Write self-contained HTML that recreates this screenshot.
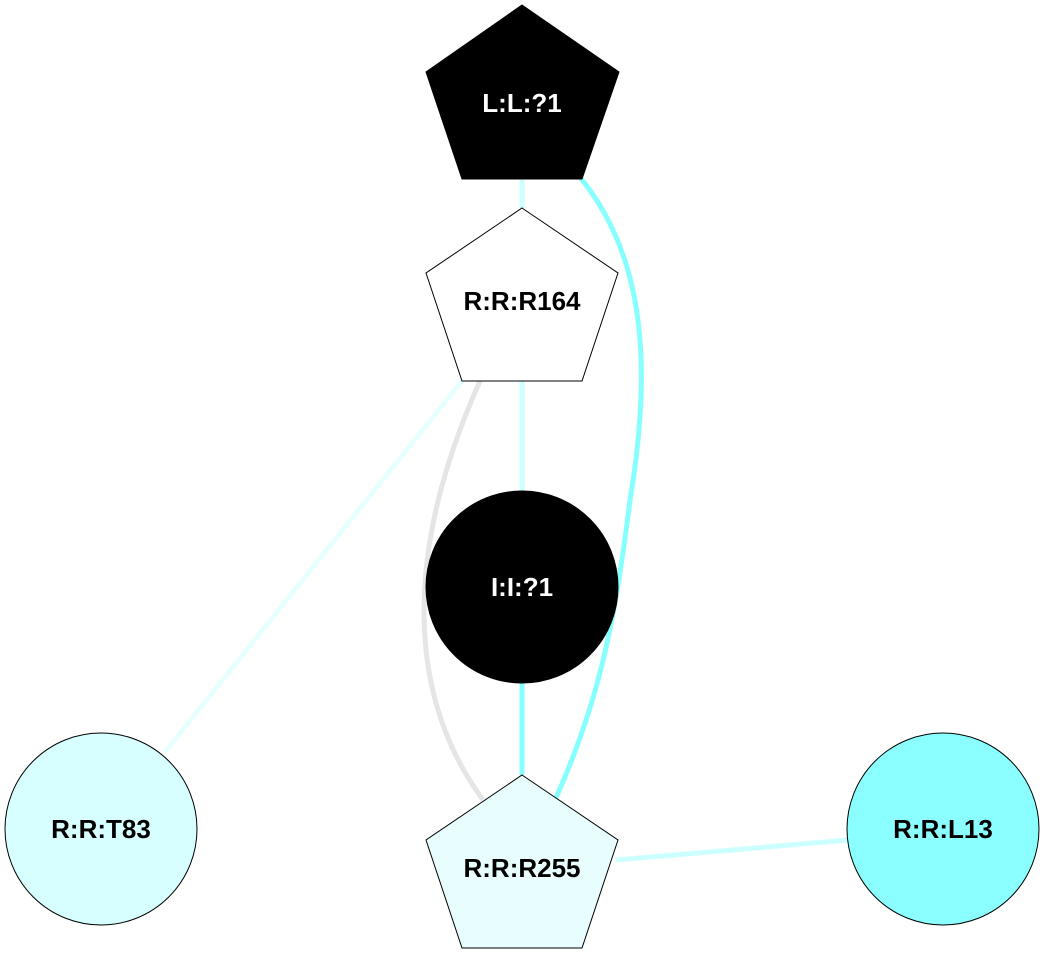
<!DOCTYPE html>
<html><head><meta charset="utf-8"><style>html,body{margin:0;padding:0;background:#fff}</style></head>
<body>
<svg width="1045" height="973" viewBox="0 0 1045 973" xmlns="http://www.w3.org/2000/svg">
<g fill="none" stroke-width="5">
<path d="M522,179 L522,208" stroke="#ccffff"/>
<path d="M522,381 L522,492" stroke="#ccffff"/>
<path d="M462,381 L165,752" stroke="#e8ffff"/>
<path d="M480,381 C400,560 410,700 483,800" stroke="#e5e5e5"/>
<path d="M578,175 C650,260 650,380 630,500 C615,620 600,700 555,800" stroke="#88ffff"/>
<path d="M522,683 L522,775" stroke="#88ffff"/>
<path d="M616,860 L848,840" stroke="#ccffff"/>
</g>
<polygon points="522,5 619,72 582,179 462,179 426,72" fill="#000" stroke="#000"/>
<polygon points="522,208 618,273 582,381 462,381 426,273" fill="#fff" stroke="#000"/>
<circle cx="522" cy="587" r="96" fill="#000" stroke="#000"/>
<polygon points="522,775 618,840 582,948 462,948 426,840" fill="#e8fefe" stroke="#000"/>
<circle cx="101" cy="829" r="96" fill="#d7ffff" stroke="#000"/>
<circle cx="943" cy="829" r="96" fill="#8bffff" stroke="#000"/>
<g font-family="Liberation Sans, sans-serif" font-weight="bold" font-size="26" text-anchor="middle">
<text x="522" y="112" fill="#fff">L:L:?1</text>
<text x="522" y="310" fill="#000">R:R:R164</text>
<text x="522" y="596" fill="#fff">I:I:?1</text>
<text x="522" y="877" fill="#000">R:R:R255</text>
<text x="101" y="838" fill="#000">R:R:T83</text>
<text x="943" y="838" fill="#000">R:R:L13</text>
</g>
</svg>
</body></html>
